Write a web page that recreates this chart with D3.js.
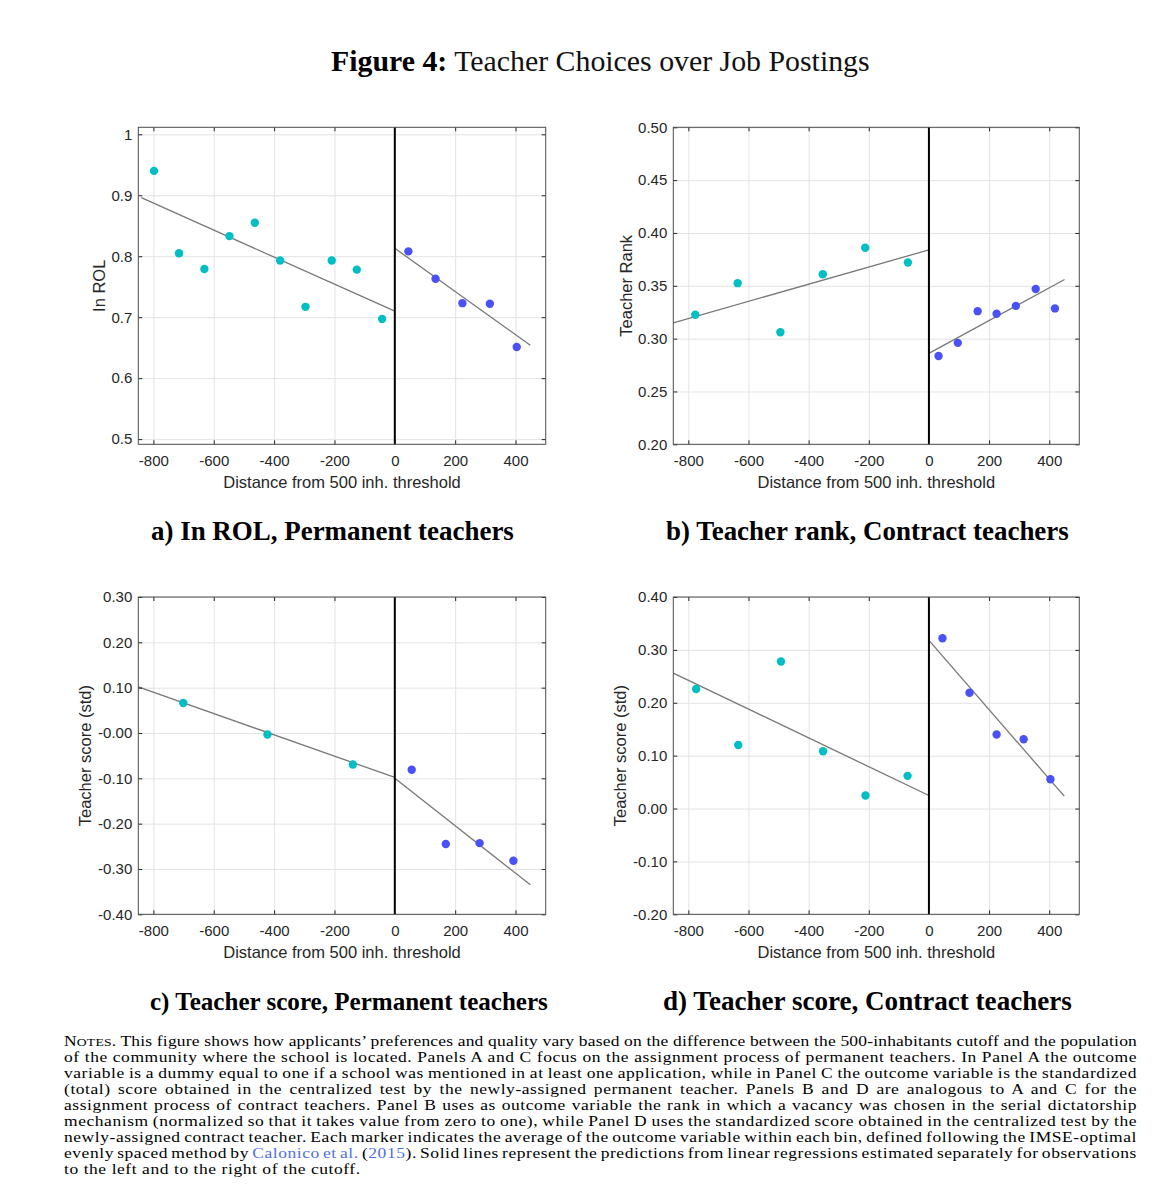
<!DOCTYPE html>
<html><head><meta charset="utf-8">
<script src="https://cdn.jsdelivr.net/npm/d3@7/dist/d3.min.js"></script>
<style>
body{margin:0;background:#fff;}
svg{display:block;}
</style></head><body>
<svg id="fig" width="1169" height="1186"></svg>
<script>
// ---------------- DATA ----------------
const xTickValues = [-800, -600, -400, -200, 0, 200, 400];
const xTickLabels = ["-800", "-600", "-400", "-200", "0", "200", "400"];
const xDomain = [-850, 500];
const xAxisLabel = "Distance from 500 inh. threshold";

// Panel A: ln ROL, permanent teachers
const aYDomain = [0.4915, 1.0115];
const aYTicks = [0.5, 0.6, 0.7, 0.8, 0.9, 1.0];
const aYTickLabels = ["0.5", "0.6", "0.7", "0.8", "0.9", "1"];
const aLeftX = [-798, -715, -631, -548, -464, -380, -296, -209, -126, -42];
const aLeftY = [0.940, 0.805, 0.779, 0.833, 0.855, 0.793, 0.717, 0.793, 0.778, 0.697];
const aRightX = [45, 135, 224, 315, 404];
const aRightY = [0.808, 0.763, 0.723, 0.722, 0.651];
const aFitLeftX = [-840, 0], aFitLeftY = [0.896, 0.710];
const aFitRightX = [0, 449], aFitRightY = [0.813, 0.654];

// Panel B: teacher rank, contract teachers
const bYDomain = [0.20, 0.50];
const bYTicks = [0.20, 0.25, 0.30, 0.35, 0.40, 0.45, 0.50];
const bYTickLabels = ["0.20", "0.25", "0.30", "0.35", "0.40", "0.45", "0.50"];
const bLeftX = [-777, -636, -494, -353, -212, -70];
const bLeftY = [0.3226, 0.3525, 0.306, 0.361, 0.386, 0.372];
const bRightX = [32, 96, 162, 225, 289, 355, 419];
const bRightY = [0.2835, 0.296, 0.326, 0.3235, 0.331, 0.347, 0.3286];
const bFitLeftX = [-850, 0], bFitLeftY = [0.315, 0.384];
const bFitRightX = [0, 451], bFitRightY = [0.286, 0.356];

// Panel C: teacher score, permanent teachers
const cYDomain = [-0.40, 0.30];
const cYTicks = [-0.40, -0.30, -0.20, -0.10, 0.00, 0.10, 0.20, 0.30];
const cYTickLabels = ["-0.40", "-0.30", "-0.20", "-0.10", "-0.00", "0.10", "0.20", "0.30"];
const cLeftX = [-701, -422, -139];
const cLeftY = [0.066, -0.0035, -0.0696];
const cRightX = [56, 169, 281, 393];
const cRightY = [-0.081, -0.245, -0.243, -0.282];
const cFitLeftX = [-850, 0], cFitLeftY = [0.1016, -0.098];
const cFitRightX = [0, 449], cFitRightY = [-0.100, -0.335];

// Panel D: teacher score, contract teachers
const dYDomain = [-0.20, 0.40];
const dYTicks = [-0.20, -0.10, 0.00, 0.10, 0.20, 0.30, 0.40];
const dYTickLabels = ["-0.20", "-0.10", "0.00", "0.10", "0.20", "0.30", "0.40"];
const dLeftX = [-774, -634, -492, -352, -211, -71];
const dLeftY = [0.226, 0.120, 0.278, 0.1084, 0.0247, 0.0618];
const dRightX = [45, 135, 225, 315, 404];
const dRightY = [0.322, 0.219, 0.140, 0.131, 0.0555];
const dFitLeftX = [-850, 0], dFitLeftY = [0.256, 0.0247];
const dFitRightX = [0, 450], dFitRightY = [0.318, 0.0234];

const yAxisLabels = ["In ROL", "Teacher Rank", "Teacher score (std)", "Teacher score (std)"];
const subtitles = ["a) In ROL, Permanent teachers", "b) Teacher rank, Contract teachers",
                   "c) Teacher score, Permanent teachers", "d) Teacher score, Contract teachers"];

const titleBold = "Figure 4:";
const titleRest = " Teacher Choices over Job Postings";

const noteLines = [
  "Notes. This figure shows how applicants\u2019 preferences and quality vary based on the difference between the 500-inhabitants cutoff and the population",
  "of the community where the school is located. Panels A and C focus on the assignment process of permanent teachers. In Panel A the outcome",
  "variable is a dummy equal to one if a school was mentioned in at least one application, while in Panel C the outcome variable is the standardized",
  "(total) score obtained in the centralized test by the newly-assigned permanent teacher. Panels B and D are analogous to A and C for the",
  "assignment process of contract teachers. Panel B uses as outcome variable the rank in which a vacancy was chosen in the serial dictatorship",
  "mechanism (normalized so that it takes value from zero to one), while Panel D uses the standardized score obtained in the centralized test by the",
  "newly-assigned contract teacher. Each marker indicates the average of the outcome variable within each bin, defined following the IMSE-optimal",
  "evenly spaced method by {Calonico et al.} ({2015}). Solid lines represent the predictions from linear regressions estimated separately for observations",
  "to the left and to the right of the cutoff."
];

// ---------------- STYLE / LAYOUT ----------------
const cLeft = "#00bfc4", cRight = "#4b52f5";
const sans = "'Liberation Sans', Arial, Helvetica, sans-serif";
const serif = "'Liberation Serif', 'Times New Roman', serif";
const svg = d3.select("#fig");
svg.append("rect").attr("width", 1169).attr("height", 1186).attr("fill", "#fff");

const panels = [
  {x0:138.3, x1:545.7, y0:127.3, y1:444.3, yDomain:aYDomain, yTicks:aYTicks, yLabels:aYTickLabels,
   lx:aLeftX, ly:aLeftY, rx:aRightX, ry:aRightY, flx:aFitLeftX, fly:aFitLeftY, frx:aFitRightX, fry:aFitRightY, ylOff:33},
  {x0:673.3, x1:1079.3, y0:127.3, y1:444.3, yDomain:bYDomain, yTicks:bYTicks, yLabels:bYTickLabels,
   lx:bLeftX, ly:bLeftY, rx:bRightX, ry:bRightY, flx:bFitLeftX, fly:bFitLeftY, frx:bFitRightX, fry:bFitRightY, ylOff:41.6},
  {x0:138.3, x1:545.7, y0:597.0, y1:914.3, yDomain:cYDomain, yTicks:cYTicks, yLabels:cYTickLabels,
   lx:cLeftX, ly:cLeftY, rx:cRightX, ry:cRightY, flx:cFitLeftX, fly:cFitLeftY, frx:cFitRightX, fry:cFitRightY, ylOff:47.6},
  {x0:673.3, x1:1079.3, y0:597.0, y1:914.3, yDomain:dYDomain, yTicks:dYTicks, yLabels:dYTickLabels,
   lx:dLeftX, ly:dLeftY, rx:dRightX, ry:dRightY, flx:dFitLeftX, fly:dFitLeftY, frx:dFitRightX, fry:dFitRightY, ylOff:47.6}
];

function styleAxis(ax) {
  ax.select(".domain").remove();
  ax.selectAll(".tick line").attr("stroke", "#262626").attr("stroke-width", 1);
  ax.selectAll(".tick text").attr("fill", "#262626").attr("font-family", sans).attr("font-size", 15);
}

panels.forEach((p, k) => {
  const g = svg.append("g");
  const x = d3.scaleLinear().domain(xDomain).range([p.x0, p.x1]);
  const y = d3.scaleLinear().domain(p.yDomain).range([p.y1, p.y0]);
  // grid
  g.append("g").call(d3.axisBottom(x).tickValues(xTickValues).tickSize(-(p.y1 - p.y0)).tickFormat(""))
    .attr("transform", `translate(0,${p.y1})`)
    .call(a => { a.select(".domain").remove(); a.selectAll(".tick line").attr("stroke", "#e3e3e3"); });
  g.append("g").call(d3.axisLeft(y).tickValues(p.yTicks).tickSize(-(p.x1 - p.x0)).tickFormat(""))
    .attr("transform", `translate(${p.x0},0)`)
    .call(a => { a.select(".domain").remove(); a.selectAll(".tick line").attr("stroke", "#e3e3e3"); });

  // fit lines
  const line = d3.line().x(d => x(d[0])).y(d => y(d[1]));
  g.append("path").datum(d3.zip(p.flx, p.fly)).attr("d", line)
    .attr("fill", "none").attr("stroke", "#787878").attr("stroke-width", 1.3);
  g.append("path").datum(d3.zip(p.frx, p.fry)).attr("d", line)
    .attr("fill", "none").attr("stroke", "#787878").attr("stroke-width", 1.3);

  // zero line
  g.append("line").attr("x1", x(0)).attr("x2", x(0)).attr("y1", p.y0).attr("y2", p.y1)
    .attr("stroke", "#000").attr("stroke-width", 2);

  // points
  g.append("g").selectAll("circle").data(d3.zip(p.lx, p.ly)).join("circle")
    .attr("cx", d => x(d[0])).attr("cy", d => y(d[1])).attr("r", 4.2).attr("fill", cLeft);
  g.append("g").selectAll("circle").data(d3.zip(p.rx, p.ry)).join("circle")
    .attr("cx", d => x(d[0])).attr("cy", d => y(d[1])).attr("r", 4.2).attr("fill", cRight);

  // axes with inward ticks
  g.append("g").attr("transform", `translate(0,${p.y1})`)
    .call(d3.axisBottom(x).tickValues(xTickValues).tickFormat((d, i) => xTickLabels[i]).tickSize(-4).tickPadding(11))
    .call(styleAxis);
  g.append("g").attr("transform", `translate(0,${p.y0})`)
    .call(d3.axisTop(x).tickValues(xTickValues).tickFormat("").tickSize(-4)).call(styleAxis);
  g.append("g").attr("transform", `translate(${p.x0},0)`)
    .call(d3.axisLeft(y).tickValues(p.yTicks).tickFormat((d, i) => p.yLabels[i]).tickSize(-4).tickPadding(6))
    .call(styleAxis);
  g.append("g").attr("transform", `translate(${p.x1},0)`)
    .call(d3.axisRight(y).tickValues(p.yTicks).tickFormat("").tickSize(-4)).call(styleAxis);

  // box
  g.append("rect").attr("x", p.x0).attr("y", p.y0).attr("width", p.x1 - p.x0).attr("height", p.y1 - p.y0)
    .attr("fill", "none").attr("stroke", "#4d4d4d").attr("stroke-width", 1);

  // axis labels
  g.append("text").attr("x", (p.x0 + p.x1) / 2).attr("y", p.y1 + 43.3).attr("text-anchor", "middle")
    .attr("font-family", sans).attr("font-size", 16.5).attr("fill", "#262626").text(xAxisLabel);
  g.append("text").attr("transform", `translate(${p.x0 - p.ylOff},${(p.y0 + p.y1) / 2}) rotate(-90)`)
    .attr("text-anchor", "middle").attr("font-family", sans).attr("font-size", 16.5).attr("fill", "#262626")
    .text(yAxisLabels[k]);
});

// fit a text element to a target width by scaling font size
function fitWidth(t, target) {
  const fs = parseFloat(t.attr("font-size"));
  const w = t.node().getComputedTextLength();
  t.attr("font-size", fs * target / w);
}

// subtitles
const subPos = [[151, 540, 363], [666, 540, 403], [150, 1010, 398], [663, 1010, 409]];
subtitles.forEach((s, i) => {
  const t = svg.append("text").attr("x", subPos[i][0]).attr("y", subPos[i][1])
    .attr("font-family", serif).attr("font-weight", "bold").attr("font-size", 21).attr("fill", "#000").text(s);
  fitWidth(t, subPos[i][2]);
});

// title
const title = svg.append("text").attr("x", 331).attr("y", 71).attr("font-family", serif)
  .attr("font-size", 24).attr("fill", "#000").style("white-space", "pre");
title.append("tspan").attr("font-weight", "bold").text(titleBold);
title.append("tspan").attr("fill", "#111").text(titleRest);
fitWidth(title, 539);

// notes: Times-like font slightly letter-spaced and horizontally widened to approach the
// wider Computer Modern face of the reference, then fully justified with word spacing
const noteFs = 14, noteLS = 0.45, noteBlockX = 64, noteBlockW = 1073;
function buildLine(t, s) {
  let rest = s;
  if (rest.startsWith("Notes.")) {
    t.append("tspan").text("N");
    t.append("tspan").attr("font-size", "0.78em").text("OTES");
    t.append("tspan").text(".");
    rest = rest.slice(6);
  }
  const parts = rest.split(/(\{[^}]*\})/);
  parts.forEach(part => {
    if (!part) return;
    if (part.startsWith("{")) t.append("tspan").attr("fill", "#4f6fe0").text(part.slice(1, -1));
    else t.append("tspan").text(part);
  });
}
const notesG = svg.append("g");
let sx = 1;
{
  const last = noteLines[noteLines.length - 1];
  const pr = notesG.append("text").attr("font-family", serif).attr("font-size", noteFs)
    .attr("letter-spacing", noteLS).style("white-space", "pre").text(last);
  const w = pr.node().getComputedTextLength();
  pr.remove();
  sx = Math.max(1, Math.min(1.35, 297 / w));
}
notesG.attr("transform", `translate(${noteBlockX},0) scale(${sx},1)`);
const innerW = noteBlockW / sx;
noteLines.forEach((s, i) => {
  const t = notesG.append("text").attr("x", 0).attr("y", 1046.5 + 16 * i)
    .attr("font-family", serif).attr("font-size", noteFs).attr("fill", "#000")
    .attr("letter-spacing", noteLS).style("white-space", "pre");
  buildLine(t, s);
  if (i < noteLines.length - 1) {
    const w = t.node().getComputedTextLength();
    const plain = s.replace(/[{}]/g, "");
    const nSpaces = (plain.match(/ /g) || []).length;
    let ws = (innerW - w) / nSpaces;
    if (ws < -1.5) {
      t.attr("letter-spacing", noteLS + (innerW - w) / plain.length);
      ws = 0;
    }
    t.attr("word-spacing", ws);
  }
});
</script>
</body></html>
